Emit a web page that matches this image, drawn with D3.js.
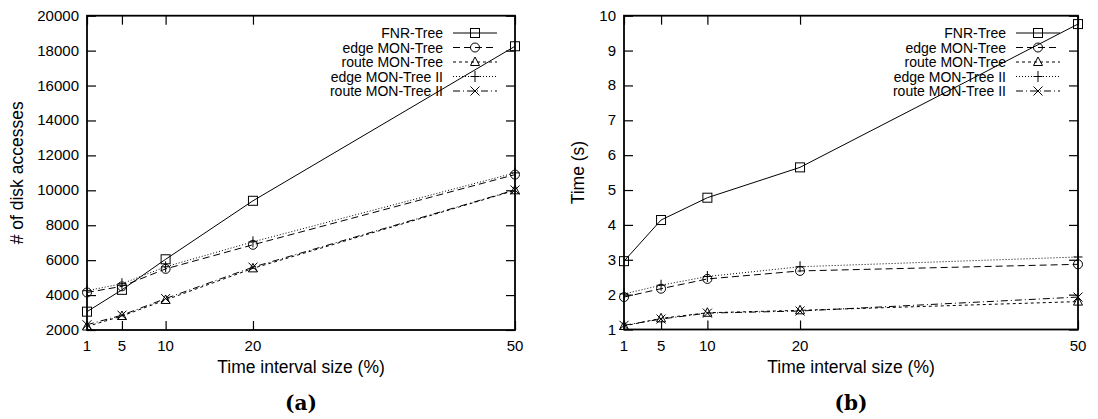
<!DOCTYPE html>
<html><head><meta charset="utf-8">
<script src="https://cdn.jsdelivr.net/npm/d3@7"></script>
<style>
body{margin:0;background:#fff;}
svg text{font-family:"Liberation Sans",Arial,sans-serif;fill:#000;}
</style></head>
<body><svg id="c" width="1098" height="419"></svg>
<script>
const xValues = [1, 5, 10, 20, 50];
const seriesNames = ["FNR-Tree", "edge MON-Tree", "route MON-Tree", "edge MON-Tree II", "route MON-Tree II"];
// (a) number of disk accesses
const diskFNR = [3050, 4300, 6050, 9400, 18250];
const diskEdgeMON = [4150, 4500, 5500, 6880, 10900];
const diskRouteMON = [2200, 2800, 3720, 5530, 10000];
const diskEdgeMON2 = [4250, 4650, 5620, 7050, 11000];
const diskRouteMON2 = [2300, 2850, 3800, 5600, 10020];
// (b) time (s)
const timeFNR = [2.96, 4.14, 4.78, 5.65, 9.76];
const timeEdgeMON = [1.93, 2.17, 2.45, 2.68, 2.87];
const timeRouteMON = [1.10, 1.32, 1.48, 1.55, 1.80];
const timeEdgeMON2 = [2.02, 2.27, 2.52, 2.80, 3.08];
const timeRouteMON2 = [1.12, 1.30, 1.47, 1.53, 1.93];
const yTicksA = [2000, 4000, 6000, 8000, 10000, 12000, 14000, 16000, 18000, 20000];
const yTicksB = [1, 2, 3, 4, 5, 6, 7, 8, 9, 10];

const styles = [
  {dash: null, marker: "square"},
  {dash: "7,4", marker: "circle"},
  {dash: "3,3", marker: "triangle"},
  {dash: "1,2", marker: "plus"},
  {dash: "7,3,1,3", marker: "cross"}
];

const svg = d3.select("#c");

function marker(g, type, x, y) {
  const s = 4.5;
  if (type === "square") g.append("rect").attr("x", x - s).attr("y", y - s).attr("width", 2*s).attr("height", 2*s).attr("fill", "none").attr("stroke", "#000");
  else if (type === "circle") g.append("circle").attr("cx", x).attr("cy", y).attr("r", s).attr("fill", "none").attr("stroke", "#000");
  else if (type === "triangle") g.append("path").attr("d", `M${x},${y - s - 0.5}L${x + s},${y + s - 1}L${x - s},${y + s - 1}Z`).attr("fill", "none").attr("stroke", "#000");
  else if (type === "plus") g.append("path").attr("d", `M${x - s},${y}H${x + s}M${x},${y - s - 1}V${y + s + 1}`).attr("stroke", "#000").attr("fill", "none");
  else if (type === "cross") g.append("path").attr("d", `M${x - s},${y - s}L${x + s},${y + s}M${x - s},${y + s}L${x + s},${y - s}`).attr("stroke", "#000").attr("fill", "none");
}

function panel(o) {
  const g = svg.append("g");
  const x = d3.scaleLinear().domain([1, 50]).range([o.left, o.right]);
  const y = d3.scaleLinear().domain(o.yDomain).range([o.bottom, o.top]);
  const tl = 9;
  // ticks inside (mirrored)
  const ax = g.append("g");
  ax.append("g").attr("transform", `translate(${o.left},0)`).call(d3.axisRight(y).tickValues(o.yTicks).tickSize(tl).tickFormat("")).call(a => a.select(".domain").remove());
  ax.append("g").attr("transform", `translate(${o.right},0)`).call(d3.axisLeft(y).tickValues(o.yTicks).tickSize(tl).tickFormat("")).call(a => a.select(".domain").remove());
  ax.append("g").attr("transform", `translate(0,${o.bottom})`).call(d3.axisTop(x).tickValues(xValues).tickSize(tl).tickFormat("")).call(a => a.select(".domain").remove());
  ax.append("g").attr("transform", `translate(0,${o.top})`).call(d3.axisBottom(x).tickValues(xValues).tickSize(tl).tickFormat("")).call(a => a.select(".domain").remove());
  ax.selectAll("line").attr("stroke", "#000").attr("stroke-width", 1.2);
  // tick labels
  g.selectAll(".yl").data(o.yTicks).enter().append("text")
    .attr("x", o.left - 8).attr("y", d => y(d) + 5).attr("text-anchor", "end")
    .style("font-size", "15px").text(d => d);
  g.selectAll(".xl").data(xValues).enter().append("text")
    .attr("x", d => x(d)).attr("y", o.bottom + 21).attr("text-anchor", "middle")
    .style("font-size", "15px").text(d => d);
  // frame
  g.append("rect").attr("x", o.left).attr("y", o.top).attr("width", o.right - o.left).attr("height", o.bottom - o.top)
    .attr("fill", "none").attr("stroke", "#000").attr("stroke-width", 1.8);
  // series
  const line = d3.line().x((d, i) => x(xValues[i])).y(d => y(d));
  o.series.forEach((vals, k) => {
    const st = styles[k];
    g.append("path").attr("d", line(vals)).attr("fill", "none").attr("stroke", "#000").attr("stroke-width", 1)
      .attr("stroke-dasharray", st.dash);
    vals.forEach((v, i) => marker(g, st.marker, x(xValues[i]), y(v)));
  });
  // legend
  const lx1 = o.right - 62, lx2 = o.right - 18, ly0 = 33, dy = 14.5;
  seriesNames.forEach((nm, k) => {
    const yy = ly0 + k * dy;
    g.append("text").attr("x", lx1 - 10).attr("y", yy + 5).attr("text-anchor", "end").style("font-size", "14px").text(nm);
    g.append("line").attr("x1", lx1).attr("x2", lx2).attr("y1", yy).attr("y2", yy).attr("stroke", "#000").attr("stroke-width", 1)
      .attr("stroke-dasharray", styles[k].dash);
    marker(g, styles[k].marker, (lx1 + lx2) / 2, yy);
  });
  // titles
  g.append("text").attr("x", (o.left + o.right) / 2).attr("y", 373).attr("text-anchor", "middle").style("font-size", "17.5px").text("Time interval size (%)");
  g.append("text").attr("transform", `translate(${o.ytx},${(o.top + o.bottom) / 2}) rotate(-90)`).attr("text-anchor", "middle").style("font-size", "17.5px").text(o.ytitle);
  g.append("text").attr("x", (o.left + o.right) / 2).attr("y", 410).attr("text-anchor", "middle")
    .style("font-family", "'DejaVu Serif','Liberation Serif',serif").style("font-weight", "bold").style("font-size", "20px").text(o.label);
}

panel({left: 87, right: 515, top: 15.7, bottom: 330, yDomain: [2000, 20000], yTicks: yTicksA,
  series: [diskFNR, diskEdgeMON, diskRouteMON, diskEdgeMON2, diskRouteMON2], ytitle: "# of disk accesses", ytx: 23, label: "(a)"});
panel({left: 624, right: 1078, top: 15.7, bottom: 329.5, yDomain: [1, 10], yTicks: yTicksB,
  series: [timeFNR, timeEdgeMON, timeRouteMON, timeEdgeMON2, timeRouteMON2], ytitle: "Time (s)", ytx: 584, label: "(b)"});
</script></body></html>
